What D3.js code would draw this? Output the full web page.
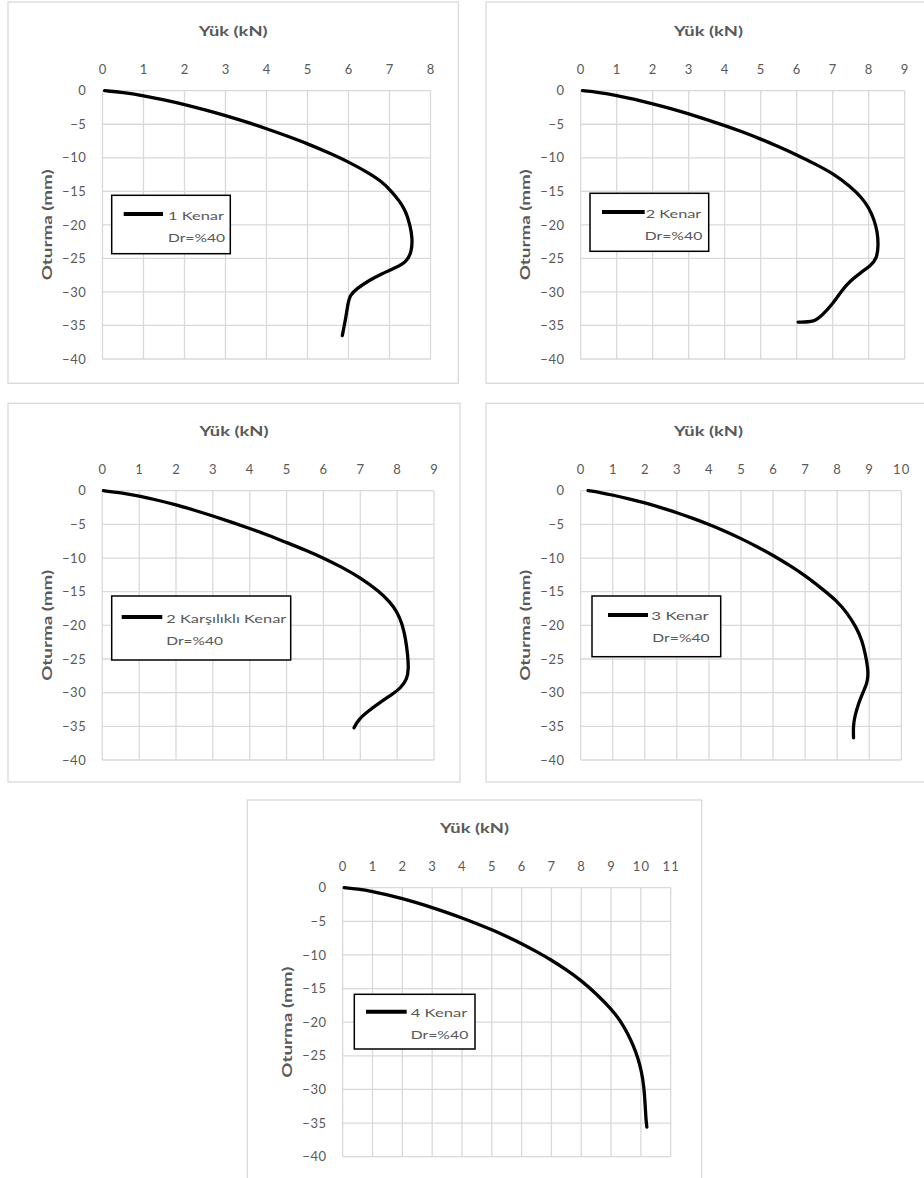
<!DOCTYPE html>
<html>
<head>
<meta charset="utf-8">
<script src="https://cdn.jsdelivr.net/npm/d3@7"></script>
<style>
  html, body { margin: 0; padding: 0; background: #ffffff; }
  svg { display: block; }
  text { font-family: Lato, "Open Sans", sans-serif; fill: #595959; }
</style>
</head>
<body>
<svg id="chart" width="924" height="1178"></svg>
<script>
// ---------------- DATA ----------------
const xTitle = "Yük (kN)";
const yTitle = "Oturma (mm)";
const yTicks = [0, -5, -10, -15, -20, -25, -30, -35, -40];

const xTicks1 = [0, 1, 2, 3, 4, 5, 6, 7, 8];
const xTicks2 = [0, 1, 2, 3, 4, 5, 6, 7, 8, 9];
const xTicks3 = [0, 1, 2, 3, 4, 5, 6, 7, 8, 9];
const xTicks4 = [0, 1, 2, 3, 4, 5, 6, 7, 8, 9, 10];
const xTicks5 = [0, 1, 2, 3, 4, 5, 6, 7, 8, 9, 10, 11];

const seriesNames = ["1 Kenar", "2 Kenar", "2 Karşılıklı Kenar", "3 Kenar", "4 Kenar"];
const legendSub = "Dr=%40";

// 1 Kenar
const load1   = [0.05, 0.5, 1, 1.5, 2, 2.5, 3, 3.5, 4, 4.5, 5, 5.5, 6, 6.5, 6.8, 7.05, 7.25, 7.4, 7.5, 7.56, 7.54, 7.42, 7.15, 6.8, 6.5, 6.2, 6.03, 5.98, 5.93, 5.88, 5.85];
const settle1 = [0, -0.25, -0.75, -1.35, -2.05, -2.85, -3.7, -4.65, -5.65, -6.75, -7.9, -9.2, -10.6, -12.3, -13.5, -15, -16.5, -18, -20, -22, -24, -25.5, -26.4, -27.3, -28.3, -29.5, -30.5, -32, -34, -35.5, -36.5];

// 2 Kenar
const load2   = [0.05, 0.5, 1, 1.5, 2, 2.5, 3, 3.5, 4, 4.5, 5, 5.5, 6, 6.5, 7, 7.5, 7.8, 8.0, 8.15, 8.24, 8.27, 8.23, 8.05, 7.78, 7.48, 7.25, 7.0, 6.72, 6.5, 6.04];
const settle2 = [0, -0.25, -0.7, -1.3, -1.95, -2.65, -3.45, -4.3, -5.2, -6.15, -7.2, -8.35, -9.55, -10.9, -12.3, -14.3, -15.9, -17.4, -19.2, -21, -23, -25, -26.1, -27.1, -28.4, -29.8, -31.8, -33.4, -34.5, -34.5];

// 2 Karşılıklı Kenar
const load3   = [0.03, 0.5, 1, 1.5, 2, 2.5, 3, 3.5, 4, 4.5, 5, 5.5, 6, 6.5, 7, 7.5, 7.8, 8.0, 8.14, 8.23, 8.29, 8.31, 8.27, 8.1, 7.85, 7.55, 7.2, 6.95, 6.83];
const settle3 = [0, -0.3, -0.8, -1.4, -2.1, -2.9, -3.75, -4.65, -5.6, -6.6, -7.7, -8.8, -10.0, -11.35, -12.9, -14.9, -16.5, -18.0, -19.8, -22, -24.5, -26.5, -28, -29.3, -30.3, -31.4, -32.8, -34, -35.2];

// 3 Kenar
const load4   = [0.23, 0.6, 1, 1.5, 2, 2.5, 3, 3.5, 4, 4.5, 5, 5.5, 6, 6.5, 7, 7.5, 8, 8.3, 8.6, 8.78, 8.89, 8.96, 8.96, 8.93, 8.8, 8.65, 8.55, 8.5, 8.51];
const settle4 = [0, -0.25, -0.65, -1.2, -1.8, -2.5, -3.25, -4.1, -5.0, -6.0, -7.1, -8.3, -9.6, -11.05, -12.6, -14.45, -16.4, -18.1, -20.3, -22.3, -24.5, -26.5, -27.6, -28.6, -30, -31.8, -33.5, -35, -36.7];

// 4 Kenar
const load5   = [0.05, 0.5, 1, 1.5, 2, 2.5, 3, 3.5, 4, 4.5, 5, 5.5, 6, 6.5, 7, 7.5, 8, 8.5, 9, 9.3, 9.55, 9.75, 9.9, 10.02, 10.1, 10.14, 10.17, 10.2];
const settle5 = [0, -0.2, -0.55, -1.05, -1.6, -2.25, -2.95, -3.7, -4.5, -5.35, -6.25, -7.25, -8.3, -9.5, -10.75, -12.2, -13.8, -15.75, -18.0, -19.7, -21.6, -23.5, -25.3, -27.3, -29.5, -32, -34.5, -35.6];

// ---------------- LAYOUT ----------------
const panels = [
  { box: [8, 2, 458.3, 383.3], plot: [102.5, 90.7, 430.5, 359], xTicks: xTicks1, load: load1, settle: settle1, name: seriesNames[0],
    legend: [111.7, 195.3, 230.3, 253.7], lLine: [123.7, 163, 214], t1: [168, 219.7, 56], t2: [168, 242.3, 57] },
  { box: [486, 2, 931, 383.3], plot: [580.7, 90.7, 904.7, 359], xTicks: xTicks2, load: load2, settle: settle2, name: seriesNames[1],
    legend: [590, 193.3, 708.7, 251.3], lLine: [602, 644.7, 212], t1: [645.7, 217.7, 55.6], t2: [644.7, 240.3, 57.6] },
  { box: [8, 403.3, 460, 782], plot: [102.3, 490.7, 434, 760], xTicks: xTicks3, load: load3, settle: settle3, name: seriesNames[2],
    legend: [111.7, 596, 290.7, 660], lLine: [121.7, 162.3, 617], t1: [166.3, 622.7, 120], t2: [166.3, 645, 56.7] },
  { box: [486, 403.3, 931, 782], plot: [580.7, 490.7, 901.3, 760], xTicks: xTicks4, load: load4, settle: settle4, name: seriesNames[3],
    legend: [592, 596, 720.7, 656.7], lLine: [608, 648, 615], t1: [651.3, 620, 57.4], t2: [652.3, 642.3, 57.4] },
  { box: [247.3, 800, 701.7, 1182], plot: [342.7, 887.7, 670.7, 1156.7], xTicks: xTicks5, load: load5, settle: settle5, name: seriesNames[4],
    legend: [354.3, 994.3, 475, 1049], lLine: [366, 406.7, 1011.7], t1: [410.7, 1017.3, 56.6], t2: [410.7, 1039.3, 57.6] }
];

const gridColor = "#d9d9d9";
const svg = d3.select("#chart");

panels.forEach(p => {
  const [bx0, by0, bx1, by1] = p.box;
  const [px0, py0, px1, py1] = p.plot;
  const xMax = p.xTicks[p.xTicks.length - 1];

  const x = d3.scaleLinear().domain([0, xMax]).range([px0, px1]);
  const y = d3.scaleLinear().domain([0, -40]).range([py0, py1]);

  const g = svg.append("g");

  // chart border
  g.append("rect")
    .attr("x", bx0).attr("y", by0)
    .attr("width", bx1 - bx0).attr("height", by1 - by0)
    .attr("fill", "#fff").attr("stroke", gridColor).attr("stroke-width", 1.3);

  // grid
  g.append("g").selectAll("line").data(p.xTicks).join("line")
    .attr("x1", d => x(d)).attr("x2", d => x(d))
    .attr("y1", py0).attr("y2", py1)
    .attr("stroke", gridColor).attr("stroke-width", 1.3);
  g.append("g").selectAll("line").data(yTicks).join("line")
    .attr("x1", px0).attr("x2", px1)
    .attr("y1", d => y(d)).attr("y2", d => y(d))
    .attr("stroke", gridColor).attr("stroke-width", 1.3);

  // x axis (top)
  const xAxis = g.append("g").attr("transform", `translate(0,${py0})`)
    .call(d3.axisTop(x).tickValues(p.xTicks).tickSize(0).tickPadding(17).tickFormat(d3.format("d")));
  xAxis.select(".domain").remove();
  xAxis.selectAll("text").attr("font-size", 13).attr("fill", "#595959")
    .style("font-family", "Lato, 'Open Sans', sans-serif").attr("letter-spacing", 1.2);

  // y axis (left)
  const yAxis = g.append("g").attr("transform", `translate(${px0},0)`)
    .call(d3.axisLeft(y).tickValues(yTicks).tickSize(0).tickPadding(16).tickFormat(d3.format("d")));
  yAxis.select(".domain").remove();
  yAxis.selectAll("text").attr("font-size", 13).attr("fill", "#595959")
    .style("font-family", "Lato, 'Open Sans', sans-serif").attr("letter-spacing", 0.6);

  // titles
  g.append("text")
    .attr("x", (bx0 + bx1) / 2).attr("y", py0 - 54.5)
    .attr("text-anchor", "middle").attr("font-size", 14).attr("font-weight", "bold")
    .attr("textLength", 69).attr("lengthAdjust", "spacingAndGlyphs")
    .text(xTitle);
  g.append("text")
    .attr("transform", `translate(${px0 - 50.5},${(py0 + py1) / 2}) rotate(-90)`)
    .attr("text-anchor", "middle").attr("font-size", 14).attr("font-weight", "bold")
    .attr("textLength", 111).attr("lengthAdjust", "spacingAndGlyphs")
    .text(yTitle);

  // curve
  const data = p.load.map((v, i) => ({ load: v, settle: p.settle[i] }));
  const line = d3.line().x(d => x(d.load)).y(d => y(d.settle)).curve(d3.curveBasis);
  g.append("path").datum(data)
    .attr("d", line).attr("fill", "none").attr("stroke", "#000")
    .attr("stroke-width", 3.3).attr("stroke-linejoin", "round").attr("stroke-linecap", "round");

  // legend
  const [lx0, ly0, lx1, ly1] = p.legend;
  g.append("rect")
    .attr("x", lx0).attr("y", ly0).attr("width", lx1 - lx0).attr("height", ly1 - ly0)
    .attr("fill", "#fff").attr("stroke", "#000").attr("stroke-width", 1.5);
  g.append("line")
    .attr("x1", p.lLine[0]).attr("x2", p.lLine[1]).attr("y1", p.lLine[2]).attr("y2", p.lLine[2])
    .attr("stroke", "#000").attr("stroke-width", 4);
  g.append("text")
    .attr("x", p.t1[0]).attr("y", p.t1[1]).attr("font-size", 12)
    .attr("textLength", p.t1[2]).attr("lengthAdjust", "spacingAndGlyphs")
    .text(p.name);
  g.append("text")
    .attr("x", p.t2[0]).attr("y", p.t2[1]).attr("font-size", 12)
    .attr("textLength", p.t2[2]).attr("lengthAdjust", "spacingAndGlyphs")
    .text(legendSub);
});
</script>
</body>
</html>
